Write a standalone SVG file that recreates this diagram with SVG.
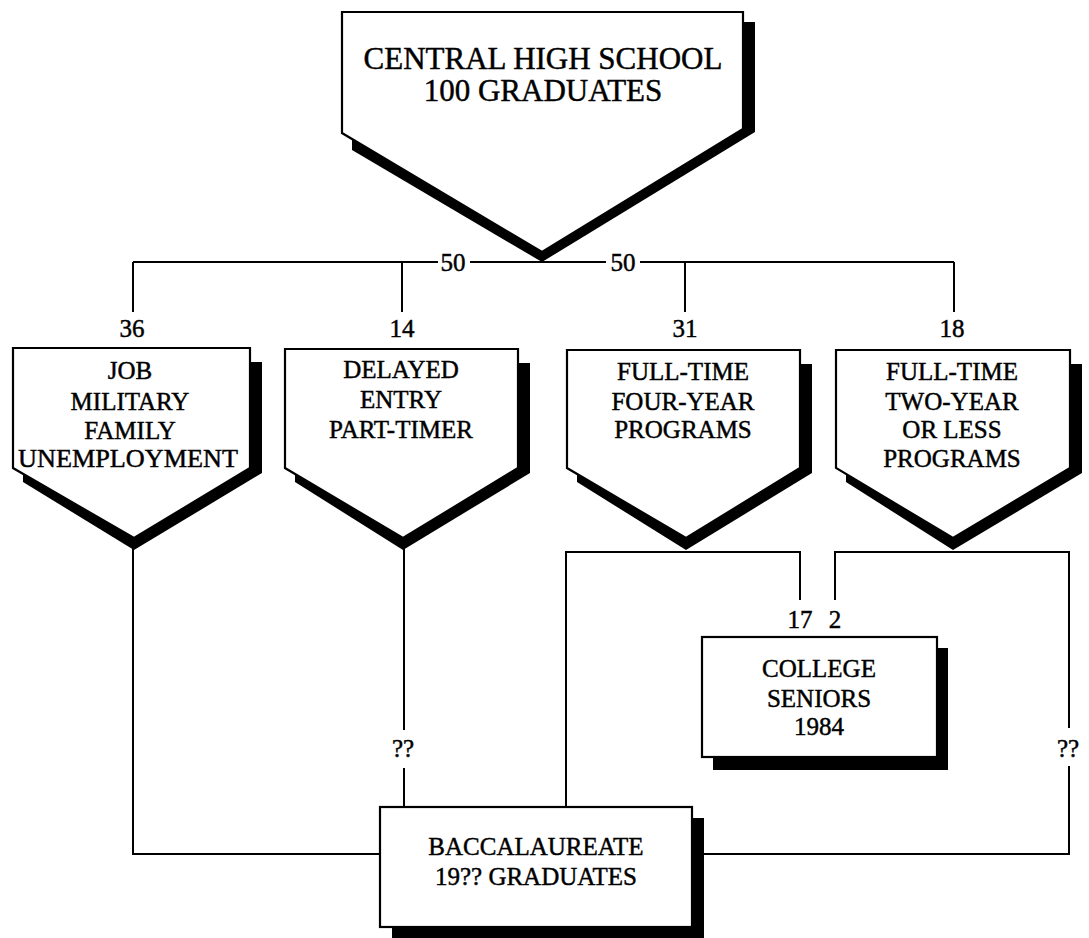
<svg xmlns="http://www.w3.org/2000/svg" width="1089" height="938" viewBox="0 0 1089 938">
<style>
.bg{fill:#ffffff}
.sh{fill:#000000;stroke:none}
.box{fill:#ffffff;stroke:#000000;stroke-width:2.2;stroke-linejoin:miter}
.ln{fill:none;stroke:#000000;stroke-width:2}
text{font-family:"Liberation Serif","Times New Roman",serif;fill:#000000;stroke:#000000;stroke-width:0.45;text-anchor:middle}
.t{font-size:25px}
.tt{font-size:31px}
.n{font-size:25px}
</style>
<rect class="bg" x="0" y="0" width="1089" height="938"/>
<g id="connectors">
<path class="ln" d="M133 262 H438 M470 262 H606 M640 262 H954"/>
<path class="ln" d="M133 262 V312 M402 262 V312 M685 262 V312 M954 262 V312"/>
<path class="ln" d="M133 548 V854 H380"/>
<path class="ln" d="M404 548 V730 M404 768 V807"/>
<path class="ln" d="M566 807 V552 H800 V600"/>
<path class="ln" d="M835 600 V552 H1069 V728 M1069 766 V854 H704"/>
<text class="n" x="453" y="271">50</text>
<text class="n" x="623" y="271">50</text>
<text class="n" x="132" y="337">36</text>
<text class="n" x="402" y="337">14</text>
<text class="n" x="685" y="337">31</text>
<text class="n" x="952" y="337">18</text>
<text class="n" x="800" y="628">17</text>
<text class="n" x="835" y="628">2</text>
<text class="n" x="403" y="757">??</text>
<text class="n" x="1068" y="757">??</text>
</g>
<g id="node-central">
<polygon class="sh" points="352,22 755,22 755,132 542,262 352,150"/>
<polygon class="box" points="342,12 743,12 743,129 542,252 342,133"/>
<text class="tt" x="543" y="69">CENTRAL HIGH SCHOOL</text>
<text class="tt" x="543" y="101">100 GRADUATES</text>
</g>
<g id="node-job">
<polygon class="sh" points="23,362 262,362 262,473 134,550 23,482"/>
<polygon class="box" points="13,348 250,348 250,468 134,538 13,468"/>
<text class="t" x="130" y="379">JOB</text>
<text class="t" x="130" y="410">MILITARY</text>
<text class="t" x="130" y="439">FAMILY</text>
<text class="t" x="128" y="467" textLength="220" lengthAdjust="spacingAndGlyphs">UNEMPLOYMENT</text>
</g>
<g id="node-delayed">
<polygon class="sh" points="295,363 530,363 530,473 403,550 295,482"/>
<polygon class="box" points="285,349 518,349 518,468 403,538 285,468"/>
<text class="t" x="401" y="378">DELAYED</text>
<text class="t" x="401" y="408">ENTRY</text>
<text class="t" x="401" y="438">PART-TIMER</text>
</g>
<g id="node-fouryear">
<polygon class="sh" points="577,364 812,364 812,473 686,550 577,482"/>
<polygon class="box" points="567,350 800,350 800,468 686,538 567,468"/>
<text class="t" x="683" y="380">FULL-TIME</text>
<text class="t" x="683" y="410">FOUR-YEAR</text>
<text class="t" x="683" y="438">PROGRAMS</text>
</g>
<g id="node-twoyear">
<polygon class="sh" points="846,364 1082,364 1082,473 953,550 846,482"/>
<polygon class="box" points="836,350 1070,350 1070,468 953,538 836,468"/>
<text class="t" x="952" y="380">FULL-TIME</text>
<text class="t" x="952" y="410">TWO-YEAR</text>
<text class="t" x="952" y="438">OR LESS</text>
<text class="t" x="952" y="467">PROGRAMS</text>
</g>
<g id="node-seniors">
<rect class="sh" x="713" y="648" width="235" height="122"/>
<rect class="box" x="702" y="637" width="235" height="120"/>
<text class="t" x="819" y="677">COLLEGE</text>
<text class="t" x="819" y="707">SENIORS</text>
<text class="t" x="819" y="735">1984</text>
</g>
<g id="node-bacc">
<rect class="sh" x="392" y="818" width="312" height="120"/>
<rect class="box" x="380" y="807" width="312" height="120"/>
<text class="t" x="536" y="855">BACCALAUREATE</text>
<text class="t" x="536" y="885">19?? GRADUATES</text>
</g>
</svg>
